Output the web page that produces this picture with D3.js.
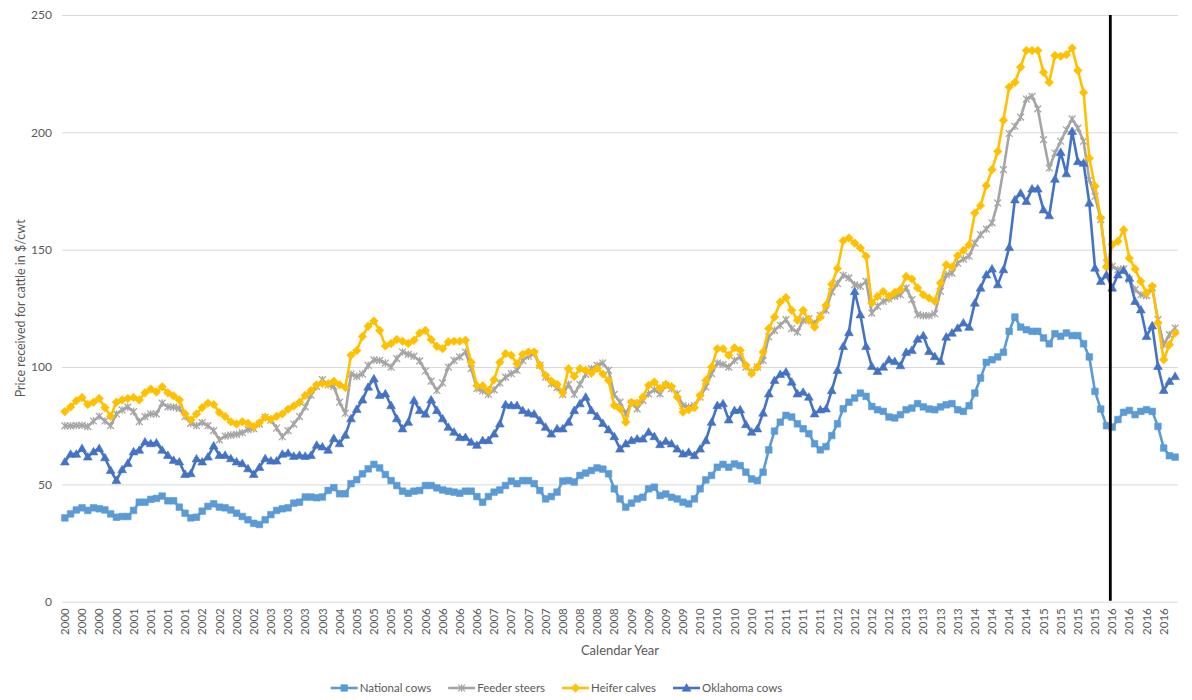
<!DOCTYPE html>
<html>
<head>
<meta charset="utf-8">
<script src="https://cdn.jsdelivr.net/npm/d3@7"></script>
<style>
  body { margin: 0; background: #ffffff; }
  svg text { font-family: Lato, "Open Sans", "Liberation Sans", sans-serif; fill: #595959; }
</style>
</head>
<body>
<svg id="chart" width="1192" height="700"></svg>
<script>
// ---------------- data ----------------
const years = [2000, 2001, 2002, 2003, 2004, 2005, 2006, 2007, 2008, 2009, 2010, 2011, 2012, 2013, 2014, 2015, 2016];
const pointsPerYear = [12, 12, 12, 12, 3, 12, 12, 12, 12, 12, 12, 12, 12, 12, 12, 12, 12];
const yTicks = [0, 50, 100, 150, 200, 250];
const seriesNames = ["National cows", "Feeder steers", "Heifer calves", "Oklahoma cows"];
const markerLineYear = 2016;

const nationalCows = [
  35.7, 37.4, 39.1, 40, 38.9, 40, 39.6, 39.1, 37.4, 36, 36.3, 36.3,
  38.9, 42.4, 42.4, 43.6, 44, 45, 43, 43, 40.3, 37.7, 35.7, 36,
  38.6, 40.6, 41.7, 40.3, 40, 39.1, 37.7, 36.3, 34.9, 33.4, 32.9, 34.9,
  37.1, 38.9, 39.6, 40, 42, 42.4, 44.6, 44.6, 44.3, 44.6, 47.4, 48.6,
  46, 46, 50.3,
  52, 54.5, 56.6, 58.5, 57, 54.2, 51.6, 49.5, 47.1, 46.2, 47.1, 47.4,
  49.5, 49.5, 48.5, 47.6, 47.1, 46.7, 46.2, 47.1, 47.1, 44.8, 42.4, 44.8,
  46.7, 47.6, 49.5, 51.4, 50.3, 51.6, 51.6, 50.3, 47.4, 43.8, 44.8, 46.7,
  51.4, 51.6, 51, 53.8, 54.8, 55.9, 57, 56.5, 54.5, 48.1, 43.8, 40.3,
  42, 43.8, 44.5, 48.1, 48.8, 45.2, 45.9, 44.5, 43.8, 42.4, 41.7, 43.8,
  48.1, 51.9, 53.8, 57.3, 58.5, 57.3, 58.7, 58, 55.2, 52.3, 51.6, 55.2,
  64.7, 72.7, 76.5, 79.4, 78.7, 75.8, 73.7, 71.6, 67.3, 64.7, 66.1, 70.8,
  75.8, 82.2, 85, 86.8, 88.9, 87.5, 83.2, 81.8, 81.1, 78.7, 78.3, 79.7,
  81.8, 82.5, 84.4, 83, 82.1, 81.8, 83, 83.9, 84.4, 81.8, 81.1, 83.5,
  88.9, 95.3, 102, 103.1, 104.3, 106.3, 115.2, 121.3, 117, 115.9, 115.2, 115.2,
  112.4, 109.9, 114.2, 113.1, 114.5, 113.4, 113.4, 109.9, 104.3, 89.6, 82.1, 75,
  74.4, 77.6, 80.7, 81.5, 79.7, 81.1, 81.8, 81.1, 74.7, 65.5, 62.2, 61.6
];

const feederSteers = [
  74.9, 74.9, 75.1, 75.1, 74.6, 77, 79, 77, 75, 80, 81.7, 82.9,
  81, 76.7, 78.9, 80, 80, 84.6, 83, 82.9, 82.4, 78.9, 76, 75,
  76.3, 75, 72.9, 69, 70.6, 71, 71.3, 72, 73.3, 73.7, 75.7, 78.6,
  77.4, 74, 70.3, 72.9, 75.7, 78.9, 83, 88, 91.7, 94.6, 92.4, 91.7,
  85, 80.3, 97,
  96, 97, 100.7, 103, 102.8, 101.7, 100, 103.6, 106.4, 105.4, 104.6, 102.6,
  98.3, 94, 90, 93.2, 100, 102.8, 104.3, 106.4, 99.3, 90.8, 89.8, 88.3,
  90.3, 93.2, 95.7, 97.2, 98.6, 102.8, 104.6, 105.7, 100.7, 95.7, 92.9, 91.2,
  88.3, 92.6, 88.3, 92.6, 96.9, 99.3, 100.7, 101.7, 98.6, 88.3, 85, 80.1,
  84.6, 82.2, 85.8, 88.6, 90.3, 88.6, 92.2, 90.8, 88.6, 83.6, 82.9, 83.6,
  87.2, 91.5, 97.2, 101.7, 101.1, 100, 102.8, 104.3, 100, 97.9, 100, 102.8,
  112.8, 115.6, 117.8, 120.2, 116.4, 114.9, 119.9, 120.6, 118.5, 122, 124.2, 132,
  135.6, 139.1, 138, 135, 134.4, 136.5, 123, 125.9, 128, 129, 130.1, 130.8,
  133.7, 128.7, 122.3, 121.9, 121.9, 122.7, 132.2, 139.3, 140, 144.3, 146, 147.2,
  152.8, 156.4, 158.8, 161.4, 169.9, 184.1, 199.5, 202.6, 206.5, 214.2, 215.3, 210,
  196.9, 184.8, 191.2, 196.2, 201.1, 205.7, 201.8, 196.2, 179.8, 172.7, 162.8, 144.3,
  142.9, 141.5, 141.8, 137.2, 133, 130.8, 130.4, 133.7, 120.2, 109.5, 113.8, 116.6
];

const heiferCalves = [
  81, 83, 85.6, 87, 84, 85, 86.6, 82.7, 79, 85, 86, 86.6,
  87, 86, 89, 90.6, 89.4, 91.6, 89, 87.7, 86, 80, 77.4, 80,
  82.7, 84.6, 84, 80.6, 78.9, 76.7, 75.7, 76.7, 76, 74.6, 76.3, 78.6,
  77.7, 79, 80, 82, 83.4, 85, 87.9, 90, 92.4, 93, 92.9, 93.9,
  92.4, 91.3, 105,
  107, 113, 117.4, 119.6, 115.6, 109, 110, 111.7, 111, 110, 111.4, 114.5,
  115.6, 111.7, 108.8, 107.8, 110.7, 111, 111, 111.4, 102, 92, 92, 90,
  94.6, 102, 105.7, 105, 101.4, 105.4, 106.4, 106.4, 100.7, 96.4, 94, 92.6,
  89, 99.3, 96, 99.3, 98.6, 97.4, 99.3, 97, 94.3, 83.6, 82.2, 76.5,
  85, 84.6, 87.2, 92.2, 93.6, 90.8, 92.6, 91.7, 87.2, 80.8, 81.8, 82.7,
  87.9, 94.3, 100, 107.8, 107.8, 105, 108.2, 107.1, 100.7, 97.2, 100, 106.4,
  116.4, 121.3, 127.7, 129.6, 124.2, 119.9, 124.2, 119.9, 117, 121.3, 126.3, 135.3,
  142, 153.8, 155, 152.8, 150.7, 147.2, 127.3, 130.1, 132.2, 130.1, 131.8, 133,
  138.6, 137.5, 133.7, 130.8, 129.4, 128, 135.8, 143.6, 142.6, 147.4, 149.7, 152.1,
  165.6, 168.8, 177.3, 184.1, 191.9, 205.1, 219.3, 221.3, 227.8, 234.9, 234.9, 234.9,
  225.6, 221.3, 232.7, 232.4, 233.1, 235.9, 226.4, 217, 189, 177, 163.5, 142.6,
  152.1, 153.6, 158.5, 146.4, 141.8, 136.5, 131.5, 134.4, 118.8, 103.1, 109.5, 114.5
];

const oklahomaCows = [
  59.6, 62.9, 62.9, 65.3, 61.7, 63.9, 65.3, 61.4, 56, 51.7, 56.3, 59,
  63.9, 64.6, 68.1, 67.4, 67.7, 64.6, 62.4, 60.3, 59.6, 54.3, 54.6, 60.9,
  59.6, 61.7, 66.4, 62.4, 62.4, 61, 59.6, 58.9, 56.7, 54.3, 57.3, 61,
  60, 60, 62.9, 63.3, 62, 62.4, 62, 62.4, 66.7, 66, 64.6, 69.6,
  67.4, 71, 78,
  82, 86, 91.5, 95, 88, 88.6, 83.6, 78, 73.7, 76.5, 85.8, 81.5,
  80, 86, 81.5, 78, 74.4, 72.3, 70, 70, 68, 66.7, 68.7, 68.7,
  71.5, 75.8, 84, 83.6, 83.6, 81.5, 80.4, 80, 77.2, 74.4, 71.5, 73.7,
  73.7, 76.5, 81.5, 84.4, 87.2, 81.5, 79, 76, 73.3, 70.4, 65.1, 67.3,
  68.7, 69.4, 69.4, 72.3, 70.4, 67, 68.4, 67.3, 65.1, 63, 63.7, 62.3,
  65.1, 68.7, 76.5, 83.6, 84.4, 77.5, 81.5, 81.8, 75.5, 72.3, 73.7, 80.4,
  88.6, 94.3, 96.9, 97.9, 93.6, 88.6, 89.3, 87.2, 80.1, 81.8, 82.2, 90,
  98.6, 108.8, 114.7, 132.2, 122.3, 108.8, 100.3, 98.2, 100, 103.1, 102.4, 100.6,
  106.3, 107.1, 111.9, 113.4, 106.7, 104.5, 102.4, 112.8, 114.5, 116.6, 118.8, 117,
  127.3, 133.7, 139.3, 141.8, 135.1, 141.5, 151, 171.3, 174.1, 170.6, 175.9, 175.9,
  167, 164.5, 180.1, 191.5, 182.4, 200.4, 187.6, 186.9, 169.9, 142.2, 136.5, 139.3,
  133.7, 139.3, 141.2, 137.9, 128, 124.4, 113.1, 117.6, 100.3, 90.1, 93.9, 96
];

// ---------------- categories ----------------
const categories = [];
const categoryYear = {};
years.forEach((y, yi) => {
  for (let k = 0; k < pointsPerYear[yi]; k++) {
    const id = y + "-" + (k + 1);
    categories.push(id);
    categoryYear[id] = y;
  }
});
const tickCategories = categories.filter((c, i) => i % 3 === 0);

// ---------------- layout ----------------
const plot = { left: 62, right: 1178, top: 15, bottom: 601.7 };
const svg = d3.select("#chart");

const x = d3.scaleBand().domain(categories).range([plot.left, plot.right]).padding(0);
const xc = c => x(c) + x.bandwidth() / 2;
const y = d3.scaleLinear().domain([0, 250]).range([plot.bottom, plot.top]);

// gridlines + y labels
const yAxis = d3.axisLeft(y).tickValues(yTicks).tickSize(-(plot.right - plot.left)).tickPadding(10);
const gy = svg.append("g").attr("transform", `translate(${plot.left},0)`).call(yAxis);
gy.select(".domain").remove();
gy.selectAll(".tick line").attr("stroke", "#d9d9d9").attr("stroke-width", 1);
gy.selectAll(".tick text").style("font-size", "12px").style("fill", "#595959").attr("font-family", null);

// x axis labels
const xAxis = d3.axisBottom(x).tickValues(tickCategories).tickFormat(c => categoryYear[c]).tickSize(0);
const gx = svg.append("g").attr("transform", `translate(0,${plot.bottom})`).call(xAxis);
gx.select(".domain").remove();
gx.selectAll(".tick text")
  .attr("y", 0).attr("x", -6.5).attr("dy", "0.36em")
  .attr("transform", "rotate(-90)")
  .style("text-anchor", "end")
  .style("font-size", "11.5px")
  .style("fill", "#595959");

// axis titles
svg.append("text")
  .attr("transform", `translate(21,${(plot.top + plot.bottom) / 2}) rotate(-90)`)
  .attr("text-anchor", "middle")
  .attr("dy", "0.35em")
  .style("font-size", "12.5px")
  .text("Price received for cattle in $/cwt");

svg.append("text")
  .attr("x", (plot.left + plot.right) / 2)
  .attr("y", 655)
  .attr("text-anchor", "middle")
  .style("font-size", "13px")
  .text("Calendar Year");

// ---------------- series ----------------
const markers = {
  square: "M-3.3,-3.3H3.3V3.3H-3.3Z",
  star: "M-3.4,-3.4L3.4,3.4M-3.4,3.4L3.4,-3.4M0,-3.8L0,3.8",
  diamond: "M0,-4.3L4.3,0L0,4.3L-4.3,0Z",
  triangle: "M0,-4.4L4.4,3.2L-4.4,3.2Z"
};
const series = [
  { name: seriesNames[0], values: nationalCows, color: "#5b9bd5", marker: "square" },
  { name: seriesNames[1], values: feederSteers, color: "#a5a5a5", marker: "star" },
  { name: seriesNames[2], values: heiferCalves, color: "#ffc000", marker: "diamond" },
  { name: seriesNames[3], values: oklahomaCows, color: "#4472c4", marker: "triangle" }
];

const line = d3.line().x((d, i) => xc(categories[i])).y(d => y(d));

function drawMarker(sel, s) {
  if (s.marker === "star") {
    sel.attr("d", markers.star).attr("fill", "none").attr("stroke", s.color).attr("stroke-width", 1.3);
  } else {
    sel.attr("d", markers[s.marker]).attr("fill", s.color).attr("stroke", s.color).attr("stroke-width", 0.6);
  }
}

series.forEach(s => {
  const g = svg.append("g");
  g.append("path")
    .datum(s.values)
    .attr("d", line)
    .attr("fill", "none")
    .attr("stroke", s.color)
    .attr("stroke-width", 2.6)
    .attr("stroke-linejoin", "round");
  g.selectAll("path.m")
    .data(s.values)
    .join("path")
    .attr("class", "m")
    .attr("transform", (d, i) => `translate(${xc(categories[i])},${y(d)})`)
    .call(drawMarker, s);
});

// vertical black line at start of 2016
const firstOfYear = categories.find(c => categoryYear[c] === markerLineYear);
svg.append("line")
  .attr("x1", x(firstOfYear) + 1).attr("x2", x(firstOfYear) + 1)
  .attr("y1", plot.top).attr("y2", plot.bottom - 1)
  .attr("stroke", "#000").attr("stroke-width", 2.8);

// ---------------- legend ----------------
const legendY = 688;
const legend = svg.append("g");
const swatch = 27, gapText = 2, gapItem = 17;
const items = series.map(s => {
  const g = legend.append("g");
  g.append("line").attr("x1", 0).attr("x2", swatch).attr("y1", 0).attr("y2", 0)
    .attr("stroke", s.color).attr("stroke-width", 2.6);
  g.append("path").attr("transform", `translate(${swatch / 2},0)`).call(drawMarker, s);
  const t = g.append("text").attr("x", swatch + gapText).attr("y", 0).attr("dy", "0.35em")
    .style("font-size", "11.5px").text(s.name);
  return { g, w: swatch + gapText + t.node().getComputedTextLength() };
});
const total = d3.sum(items, d => d.w) + gapItem * (items.length - 1);
let cx = 556.5 - total / 2;
items.forEach(it => {
  it.g.attr("transform", `translate(${cx},${legendY})`);
  cx += it.w + gapItem;
});
</script>
</body>
</html>
